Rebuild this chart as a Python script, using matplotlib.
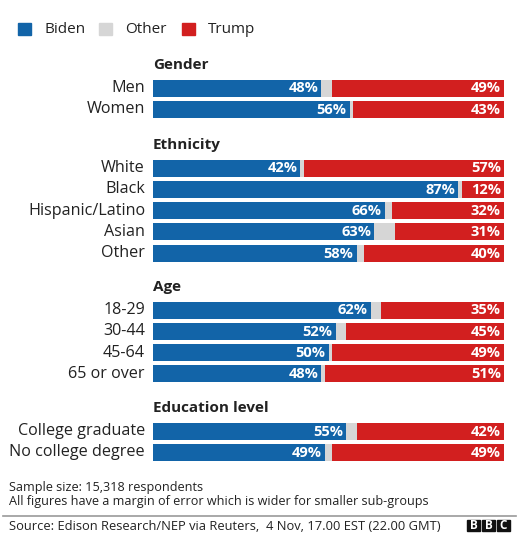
import matplotlib

matplotlib.use("Agg")
import matplotlib.pyplot as plt
from matplotlib.patches import Rectangle

plt.rcParams["font.family"] = ["Open Sans", "DejaVu Sans"]

BLUE = "#1264a8"
GREY = "#d6d6d6"
RED = "#d21f1f"

groups = ["Gender", "Ethnicity", "Age", "Education level"]
labels = [
    ["Men", "Women"],
    ["White", "Black", "Hispanic/Latino", "Asian", "Other"],
    ["18-29", "30-44", "45-64", "65 or over"],
    ["College graduate", "No college degree"],
]
biden = [
    [48, 56],
    [42, 87, 66, 63, 58],
    [62, 52, 50, 48],
    [55, 49],
]
other = [
    [3, 1],
    [1, 1, 2, 6, 2],
    [3, 3, 1, 1],
    [3, 2],
]
trump = [
    [49, 43],
    [57, 12, 32, 31, 40],
    [35, 45, 49, 51],
    [42, 49],
]

W, H = 522, 549
fig = plt.figure(figsize=(W / 100, H / 100), dpi=100)
fig.patch.set_facecolor("white")

# bar axes: x in percent, y in pixel rows
x0, x1 = 153, 504
ax = fig.add_axes([x0 / W, 0, (x1 - x0) / W, 1])
ax.set_xlim(0, 100)
ax.set_ylim(H, 0)
ax.axis("off")

px = 100 / (x1 - x0)  # percent per pixel
header_y = [65, 145, 287, 408]
row_gap = 21.3
bar_h = 17

for g, name in enumerate(groups):
    hy = header_y[g]
    ax.text(0, hy, name, fontsize=11, fontweight="bold", color="#222222",
            ha="left", va="center", clip_on=False)
    for i, lab in enumerate(labels[g]):
        y = hy + 23 + i * row_gap
        b, o, t = biden[g][i], other[g][i], trump[g][i]
        ax.barh(y, b, height=bar_h, left=0, color=BLUE, linewidth=0)
        ax.barh(y, o, height=bar_h, left=b, color=GREY, linewidth=0)
        ax.barh(y, t, height=bar_h, left=b + o, color=RED, linewidth=0)
        ax.text(-8 * px, y, lab, fontsize=11.6, color="#222222",
                ha="right", va="center", clip_on=False)
        ax.text(b - 3 * px, y + 0.5, f"{b}%", fontsize=10.5, fontweight="bold",
                color="white", ha="right", va="center")
        ax.text(100 - 3 * px, y + 0.5, f"{t}%", fontsize=10.5, fontweight="bold",
                color="white", ha="right", va="center")

# legend
def fx(p):
    return p / W


def fy(p):
    return 1 - p / H


for sx, tx, col, name in [(18, 44, BLUE, "Biden"), (99, 125, GREY, "Other"),
                           (182, 208, RED, "Trump")]:
    fig.patches.append(Rectangle((fx(sx), fy(35)), 13 / W, 12 / H,
                                 transform=fig.transFigure, color=col))
    fig.text(fx(tx), fy(29.5), name, fontsize=11, color="#222222",
             ha="left", va="center")

fig.text(fx(9), fy(488), "Sample size: 15,318 respondents", fontsize=9.1,
         color="#222222", ha="left", va="center")
fig.text(fx(9), fy(502),
         "All figures have a margin of error which is wider for smaller sub-groups",
         fontsize=9.05, color="#222222", ha="left", va="center")
fig.lines.append(plt.Line2D([fx(3), fx(516)], [fy(516), fy(516)],
                            transform=fig.transFigure, color="#999999", lw=1.2))
fig.text(fx(9), fy(526),
         "Source: Edison Research/NEP via Reuters,  4 Nov, 17.00 EST (22.00 GMT)",
         fontsize=9.3, color="#222222", ha="left", va="center")

for k, letter in enumerate("BBC"):
    bx = 467 + k * 15
    fig.patches.append(Rectangle((fx(bx), fy(531)), 13 / W, 11 / H,
                                 transform=fig.transFigure, color="#111111"))
    fig.text(fx(bx + 6.5), fy(525.5), letter, fontsize=8.5, fontweight="bold",
             color="white", ha="center", va="center")

fig.savefig("out.png", dpi=100)
